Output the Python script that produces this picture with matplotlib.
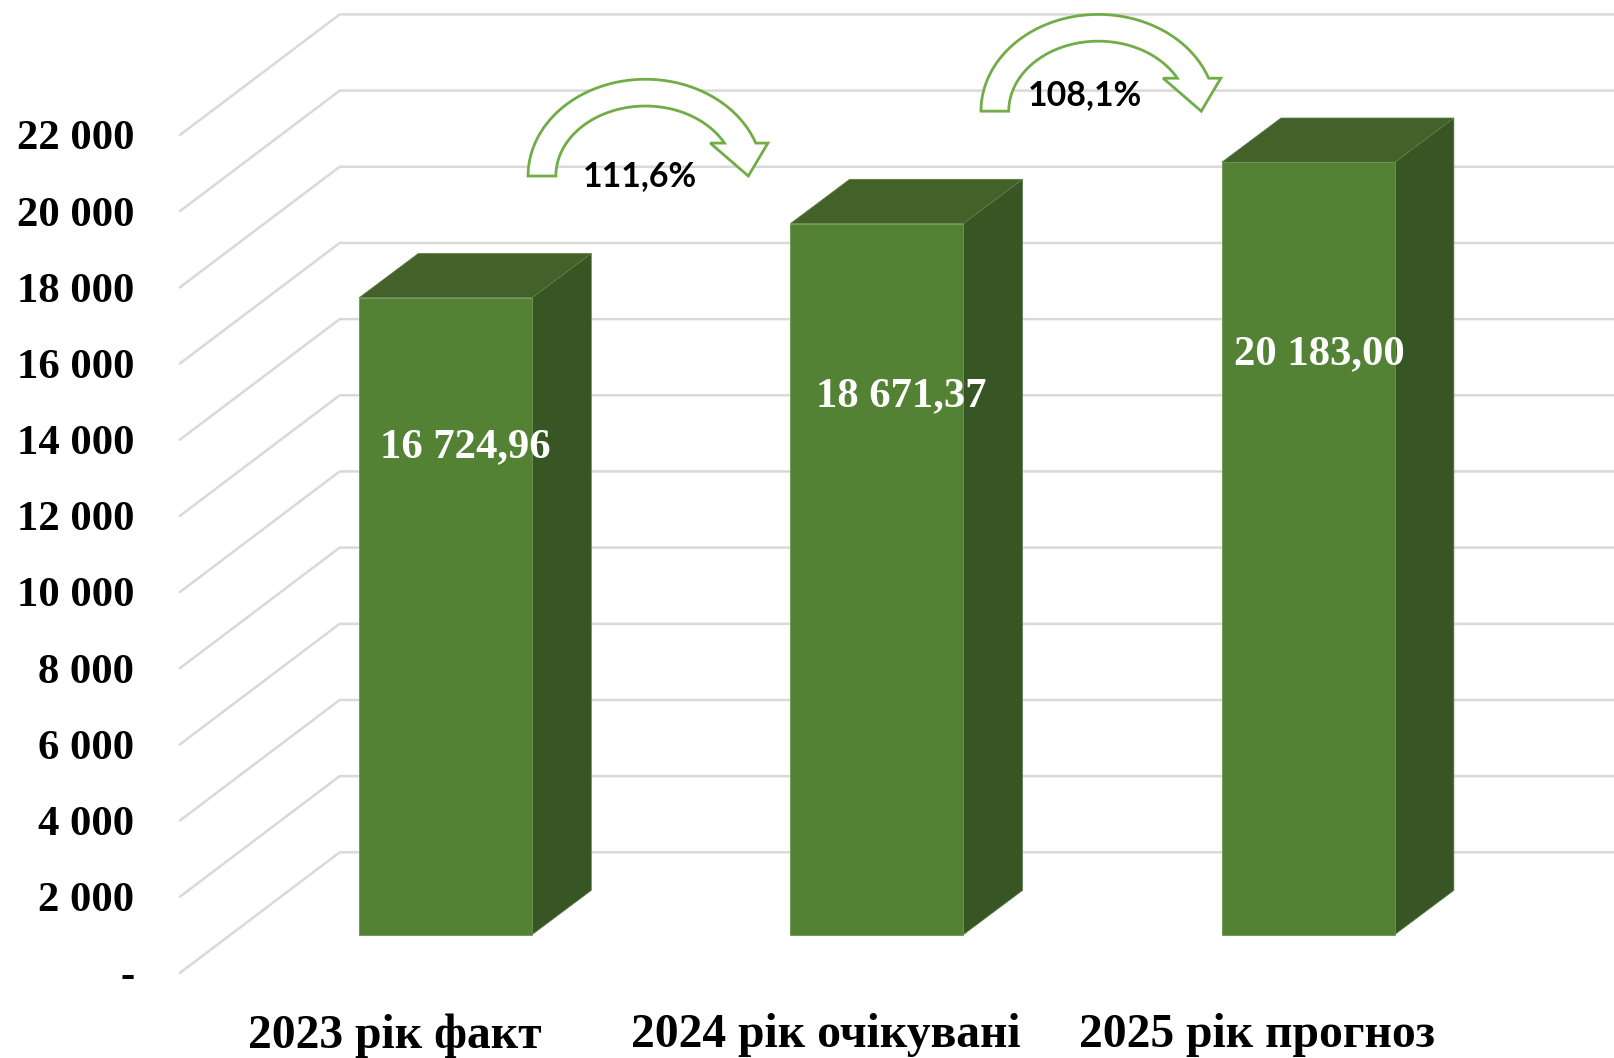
import numpy as np
import matplotlib
matplotlib.use('Agg')

import matplotlib.pyplot as plt
from matplotlib.patches import Polygon

categories = ["2023 рік факт", "2024 рік очікувані", "2025 рік прогноз"]
bar_values = [16725, 18671, 20280]
bar_labels = ["16 724,96", "18 671,37", "20 183,00"]
y_ticks = [0, 2000, 4000, 6000, 8000, 10000, 12000, 14000, 16000, 18000, 20000, 22000]
y_tick_labels = ["-", "2 000", "4 000", "6 000", "8 000", "10 000", "12 000",
                 "14 000", "16 000", "18 000", "20 000", "22 000"]
growth_labels = ["111,6%", "108,1%"]

W, H = 1614, 1058
SCALE = W / 1568  # positions below were measured on the 1568 px preview

GREEN = '#548235'
GREEN_TOP = '#42622A'
GREEN_SIDE = '#375623'
GRID = '#D9D9D9'
ARROW = '#70AD47'
SERIF = 'Liberation Serif'

# depth of the oblique floor, in category / value units
CAT_STEP = 419
DEPTH_X = 155 / CAT_STEP
DEPTH_Y = 117 / 0.037
BAR_FRONT = 0.319
BAR_BACK = 0.69
BAR_W = 168 / CAT_STEP

fig = plt.figure(figsize=(W / 100, H / 100), dpi=100)

# axes = the front plane of the chart
left, right = 175 * SCALE, W
bottom, top = H - 945 * SCALE, H - 131 * SCALE
ax = fig.add_axes([left / W, bottom / H, (right - left) / W, (top - bottom) / H])
ax.set_xlim((175 - 383.5) / CAT_STEP, (1568 - 383.5) / CAT_STEP)
ax.set_ylim(0, 22000)
for s in ax.spines.values():
    s.set_visible(False)
ax.patch.set_visible(False)

x_min, x_max = ax.get_xlim()

# walls
for v in y_ticks:
    ax.plot([x_min, x_min + DEPTH_X, x_max], [v, v + DEPTH_Y, v + DEPTH_Y],
            color=GRID, lw=1.8, clip_on=False, zorder=1, solid_joinstyle='miter')

# bars
for i, v in enumerate(bar_values):
    x0 = i + BAR_FRONT * DEPTH_X - BAR_W / 2
    x1 = x0 + BAR_W
    y0 = 37 / 0.037
    dx = (BAR_BACK - BAR_FRONT) * DEPTH_X
    dy = 43 / 0.037
    ax.add_patch(Polygon([(x1, y0), (x1 + dx, y0 + dy), (x1 + dx, y0 + v + dy), (x1, y0 + v)],
                         facecolor=GREEN_SIDE, edgecolor='#5F7D4C', lw=0.5, clip_on=False, zorder=2))
    ax.add_patch(Polygon([(x0, y0 + v), (x0 + dx, y0 + v + dy), (x1 + dx, y0 + v + dy), (x1, y0 + v)],
                         facecolor=GREEN_TOP, edgecolor='#5F7D4C', lw=0.5, clip_on=False, zorder=2))
    ax.bar(x0, v, width=BAR_W, bottom=y0, align='edge', color=GREEN,
           edgecolor='#6E9450', linewidth=0.6, clip_on=False, zorder=3)

# value labels
label_x = [0.163, 1.175, 2.144]
label_y = [13811, 15135, 16243]
for x, y, t in zip(label_x, label_y, bar_labels):
    ax.text(x, y, t, color='white', fontsize=30.7, fontweight='bold', family=SERIF,
            ha='center', va='center', zorder=5)

ax.set_yticks(y_ticks)
ax.set_yticklabels(y_tick_labels, fontsize=30.7, fontweight='bold', family=SERIF, color='black')
ax.set_xticks(range(len(categories)))
ax.set_xticklabels(categories, fontsize=34.3, fontweight='bold', family=SERIF, color='black')
ax.tick_params(axis='both', length=0)
ax.tick_params(axis='y', pad=33)
ax.tick_params(axis='x', pad=29)


def curved_arrow(cx, cy):
    # outline of the curved arrow, preview pixels relative to the foot of the arc
    t_out = np.linspace(np.pi, np.arcsin(32 / 94), 60)
    t_in = np.linspace(np.arcsin(32 / 68), np.pi, 60)
    outer = np.c_[114 * np.cos(t_out), 94 * np.sin(t_out)]
    inner = np.c_[87 * np.cos(t_in), 68 * np.sin(t_in)]
    head = np.array([(119, 32), (100, 0), (63, 32)])
    pts = np.vstack([outer, head, inner])
    px = (cx + pts[:, 0]) * SCALE / W
    py = (H - (cy - pts[:, 1]) * SCALE) / H
    fig.add_artist(Polygon(np.c_[px, py], closed=True, facecolor='white', edgecolor=ARROW,
                           lw=2.0, transform=fig.transFigure, zorder=6, joinstyle='miter'))


curved_arrow(627, 171)
curved_arrow(1067, 108)

fig.text(622 * SCALE / W, 1 - 171 * SCALE / H, growth_labels[0], fontsize=24.4, fontweight='bold',
         family='Lato', ha='center', va='center', zorder=7)
fig.text(1053.5 * SCALE / W, 1 - 92 * SCALE / H, growth_labels[1], fontsize=24.4, fontweight='bold',
         family='Lato', ha='center', va='center', zorder=7)

fig.savefig("out.png", dpi=100, facecolor='white')
plt.close(fig)
